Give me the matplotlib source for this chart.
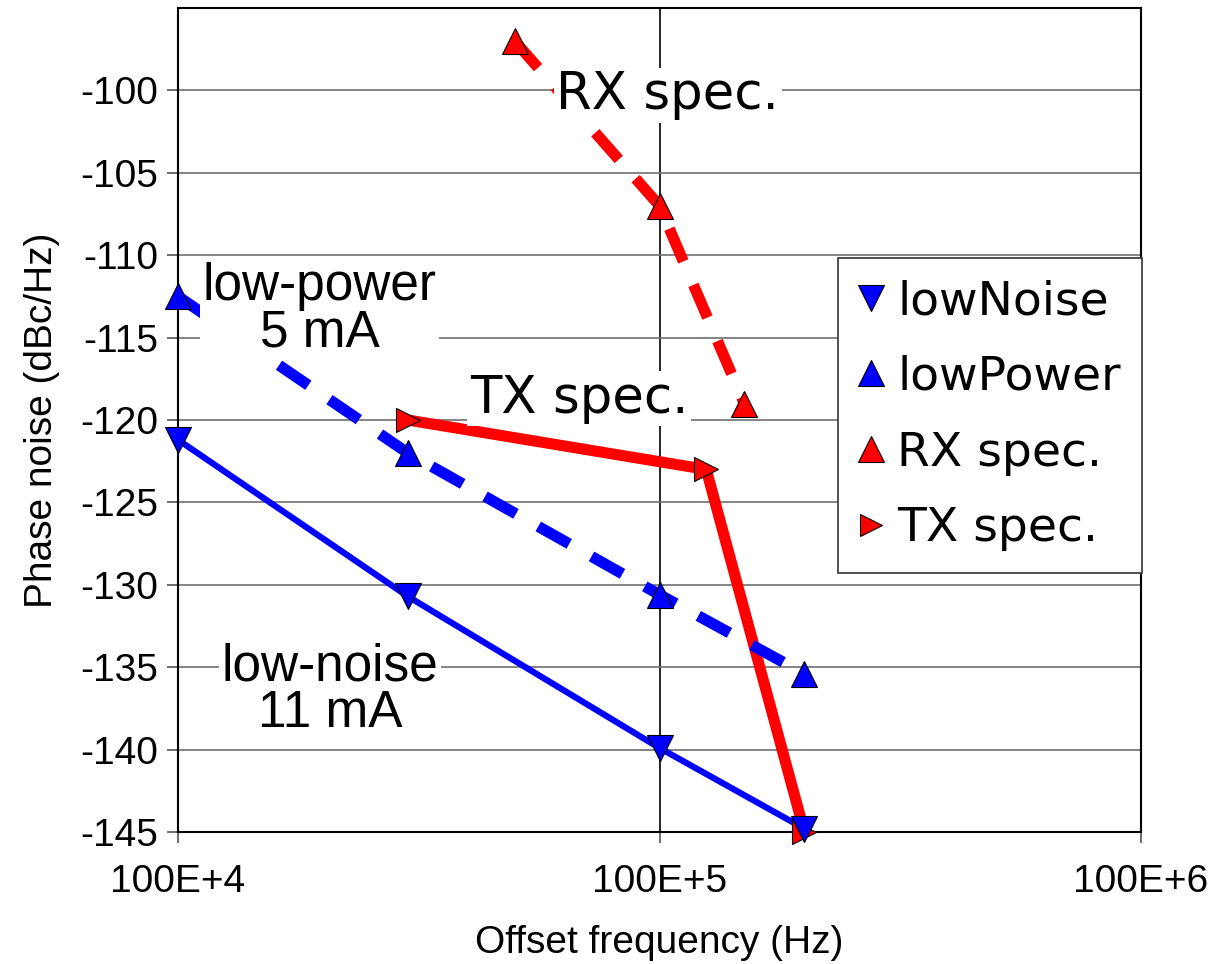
import numpy as np
import matplotlib.pyplot as plt
from matplotlib.lines import Line2D

# data
low_noise_f = [1e4, 3e4, 1e5, 2e5]
low_noise_pn = [-121.2, -130.7, -139.9, -144.8]

low_power_f = [1e4, 3e4, 1e5, 2e5]
low_power_pn = [-112.5, -122.0, -130.6, -135.4]

rx_f = [5e4, 1e5, 1.5e5]
rx_pn = [-97.0, -107.0, -119.0]

tx_f = [3e4, 1.25e5, 2e5]
tx_pn = [-120.0, -123.0, -145.0]

x_ticks = [1e4, 1e5, 1e6]
x_tick_labels = ['100E+4', '100E+5', '100E+6']
y_ticks = np.arange(-145, -99, 5)

blue = '#0000ff'
red = '#ff0000'
arial = 'Liberation Sans'

fig = plt.figure(figsize=(12.31, 9.64), dpi=100)
ax = fig.add_axes([178 / 1231, 1 - 832 / 964, (1141 - 178) / 1231, (832 - 8) / 964])

# lines (red first, blue dashed lies on top of red)
ax.plot(tx_f, tx_pn, color=red, lw=8, solid_capstyle='butt', zorder=2, clip_on=False)
ax.plot(rx_f, rx_pn, color=red, lw=8, linestyle=(0, (3.2, 2.3)), zorder=2, clip_on=False)
ax.plot(low_power_f, low_power_pn, color=blue, lw=8, linestyle=(0, (3.2, 2.3)), zorder=2.1, clip_on=False)
ax.plot(low_noise_f, low_noise_pn, color=blue, lw=4.5, zorder=2.1, clip_on=False)

# markers
mk = dict(linestyle='none', markeredgecolor='black', markeredgewidth=0.8, clip_on=False)
ax.plot(tx_f, tx_pn, marker='>', markersize=17, color=red, zorder=4, **mk)
ax.plot(rx_f, rx_pn, marker='^', markersize=19, color=red, zorder=4, **mk)
ax.plot(low_power_f, low_power_pn, marker='^', markersize=19, color=blue, zorder=4.1, **mk)
ax.plot(low_noise_f, low_noise_pn, marker='v', markersize=19, color=blue, zorder=4.1, **mk)

ax.set_xscale('log')
ax.set_xlim(1e4, 1e6)
ax.set_ylim(-145, -95)
ax.set_xticks(x_ticks)
ax.set_xticklabels(x_tick_labels)
ax.xaxis.set_minor_locator(plt.NullLocator())
ax.set_yticks(y_ticks)
ax.set_yticklabels([str(v) for v in y_ticks])

ax.grid(axis='y', color='#707070', lw=1.2, zorder=1)
ax.grid(axis='x', color='black', lw=1.2, zorder=1)
ax.set_axisbelow(True)
for s in ax.spines.values():
    s.set_color('black')
    s.set_linewidth(1.5)

ax.tick_params(axis='both', direction='out', length=8, width=1.2, color='#555555')
ax.tick_params(axis='y', pad=6)
ax.tick_params(axis='x', pad=15)
for lab in ax.get_xticklabels() + ax.get_yticklabels():
    lab.set_fontfamily(arial)
    lab.set_fontsize(28)

ax.set_xlabel('Offset frequency (Hz)', fontfamily=arial, fontsize=28, labelpad=18)
ax.set_ylabel('Phase noise (dBc/Hz)', fontfamily=arial, fontsize=28, labelpad=15)

# annotations with white boxes over the lines
box = dict(facecolor='white', edgecolor='none', pad=2)
ax.text(1.04e5, -100.3, 'RX spec.', fontsize=37, ha='center', va='center',
        bbox=box, zorder=5)
ax.text(6.8e4, -118.7, 'TX spec.', fontsize=37, ha='center', va='center',
        bbox=box, zorder=5)
ax.text(1.97e4, -113.3, 'low-power\n5 mA', fontsize=37, fontfamily=arial,
        ha='center', va='center', linespacing=0.95, bbox=box, zorder=5)
ax.text(2.07e4, -136.4, 'low-noise\n11 mA', fontsize=37, fontfamily=arial,
        ha='center', va='center', linespacing=0.95, bbox=box, zorder=5)

handles = [
    Line2D([], [], marker='v', color=blue, **mk, markersize=19),
    Line2D([], [], marker='^', color=blue, **mk, markersize=19),
    Line2D([], [], marker='^', color=red, **mk, markersize=19),
    Line2D([], [], marker='>', color=red, **mk, markersize=16),
]
labels = ['lowNoise', 'lowPower', 'RX spec.', 'TX spec.']
leg = fig.legend(handles, labels, loc='upper left',
                 bbox_to_anchor=(838 / 1231, 1 - 258 / 964),
                 fontsize=34, frameon=True, fancybox=False,
                 edgecolor='#333333', framealpha=1,
                 handlelength=0.5, handletextpad=0.3, labelspacing=0.65,
                 borderpad=0.45, borderaxespad=0)
leg.get_frame().set_linewidth(1.2)
leg.set_zorder(6)

fig.savefig('out.png', dpi=100)
